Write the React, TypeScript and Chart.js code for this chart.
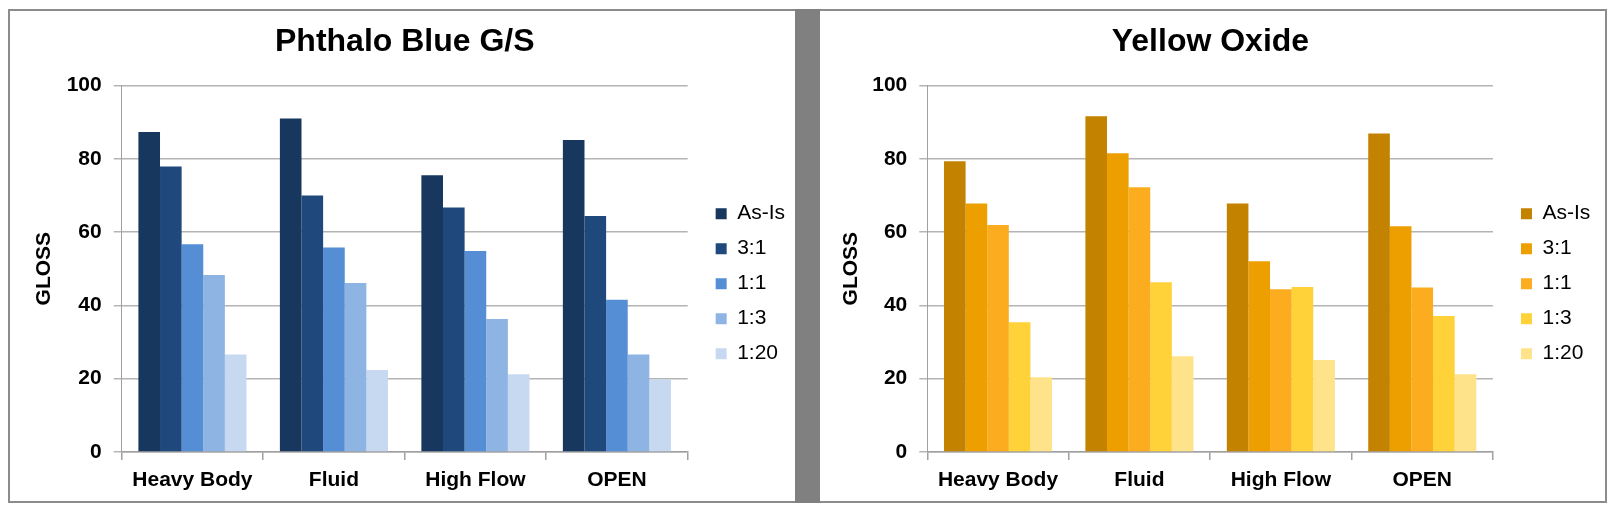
import React, { useEffect, useRef } from "react";
import { Chart, registerables } from "chart.js";

Chart.register(...registerables);

const categories = ["Heavy Body", "Fluid", "High Flow", "OPEN"];
const seriesLabels = ["As-Is", "3:1", "1:1", "1:3", "1:20"];
const yTicks = [0, 20, 40, 60, 80, 100];

// Phthalo Blue G/S
const blueAsIs = [87.3, 91.0, 75.5, 85.1];
const blue3to1 = [77.9, 70.0, 66.7, 64.4];
const blue1to1 = [56.7, 55.8, 54.8, 41.5];
const blue1to3 = [48.3, 46.1, 36.3, 26.6];
const blue1to20 = [26.6, 22.4, 21.2, 19.8];
const blueColors = ["#17375e", "#1f497d", "#558ed5", "#8eb4e3", "#c6d9f1"];

// Yellow Oxide
const yellowAsIs = [79.3, 91.6, 67.8, 86.9];
const yellow3to1 = [67.8, 81.5, 52.0, 61.6];
const yellow1to1 = [61.9, 72.2, 44.4, 44.9];
const yellow1to3 = [35.4, 46.3, 45.0, 37.1];
const yellow1to20 = [20.4, 26.1, 25.1, 21.2];
const yellowColors = ["#c38200", "#ee9f00", "#fbad1f", "#ffd23a", "#ffe38a"];

const FONT = "'Liberation Sans', Arial, Helvetica, sans-serif";
const GRID = "#b4b4b4";
const AXIS = "#a0a0a0";

type Props = {
  title: string;
  series: number[][];
  colors: string[];
  padLeft: number;
  padRight: number;
  yWidth: number;
  glossPad: number;
};

const GlossChart = ({ title, series, colors, padLeft, padRight, yWidth, glossPad }: Props) => {
  const chartRef: any = useRef(null);
  const chartInstance: any = useRef(null);

  useEffect(() => {
    if (!chartRef.current) return;
    const ctx = chartRef.current.getContext("2d");
    chartInstance.current = new Chart(ctx, {
      type: "bar",
      data: {
        labels: categories,
        datasets: seriesLabels.map((label, i) => ({
          label,
          data: series[i],
          backgroundColor: colors[i],
          borderWidth: 0,
          categoryPercentage: 0.764,
          barPercentage: 1.0,
        })),
      },
      options: {
        responsive: true,
        maintainAspectRatio: false,
        animation: false,
        layout: { padding: { left: padLeft, right: padRight, top: 0, bottom: 0 } },
        plugins: {
          title: {
            display: true,
            text: title,
            color: "#000",
            font: { family: FONT, size: 32, weight: "bold" },
            padding: { top: 12, bottom: 24 },
          },
          legend: {
            position: "right",
            fullSize: false,
            // empty title only pushes the legend rows down a little
            title: { display: true, text: "", padding: 3, font: { size: 20 } },
            labels: {
              color: "#000",
              font: { family: FONT, size: 21 },
              boxWidth: 11,
              boxHeight: 11,
              padding: 14,
            },
          },
          tooltip: { enabled: false },
        },
        scales: {
          x: {
            grid: {
              display: true,
              offset: true,
              drawOnChartArea: false,
              drawTicks: true,
              tickLength: 8,
              color: AXIS,
              lineWidth: 1.5,
            },
            border: { display: true, color: AXIS, width: 1.5 },
            ticks: {
              color: "#000",
              padding: 7.4,
              font: { family: FONT, size: 21, weight: "bold" },
            },
            afterFit: (scale: any) => {
              scale.height = 49;
            },
          },
          y: {
            min: 0,
            max: 100,
            afterBuildTicks: (scale: any) => {
              scale.ticks = yTicks.map((v) => ({ value: v }));
            },
            grid: { color: GRID, lineWidth: 1.5, tickLength: 8 },
            border: { display: true, color: AXIS, width: 1 },
            ticks: {
              color: "#000",
              padding: 12,
              font: { family: FONT, size: 21, weight: "bold" },
            },
            title: {
              display: true,
              text: "GLOSS",
              color: "#000",
              font: { family: FONT, size: 21, weight: "bold" },
              padding: { top: glossPad, bottom: 4 },
            },
            afterFit: (scale: any) => {
              scale.width = yWidth;
            },
          },
          // spacer between plot and legend
          gap: {
            type: "linear",
            position: "right",
            display: true,
            grid: { display: false, drawTicks: false },
            ticks: { display: false },
            border: { display: false },
            afterFit: (scale: any) => {
              scale.width = 14;
            },
          },
        },
      },
    } as any);

    return () => {
      if (chartInstance.current) {
        chartInstance.current.destroy();
      }
    };
  }, []);

  return (
    <div style={{ position: "relative", width: 785, height: 490 }}>
      <canvas ref={chartRef}></canvas>
    </div>
  );
};

const App = () => {
  const border = "2px solid #8c8c8c";
  return (
    <div style={{ display: "flex", marginTop: 1, width: 1599, height: 494, background: "#fff" }}>
      <div style={{ borderTop: border, borderLeft: border, borderBottom: border }}>
        <GlossChart
          title="Phthalo Blue G/S"
          series={[blueAsIs, blue3to1, blue1to1, blue1to3, blue1to20]}
          colors={blueColors}
          padLeft={4.6}
          padRight={0}
          yWidth={107.1}
          glossPad={17.3}
        />
      </div>
      <div style={{ width: 25, height: 494, background: "#808080" }} />
      <div style={{ borderTop: border, borderRight: border, borderBottom: border }}>
        <GlossChart
          title="Yellow Oxide"
          series={[yellowAsIs, yellow3to1, yellow1to1, yellow1to3, yellow1to20]}
          colors={yellowColors}
          padLeft={0.6}
          padRight={4.7}
          yWidth={106.7}
          glossPad={17.8}
        />
      </div>
    </div>
  );
};

export default App;
